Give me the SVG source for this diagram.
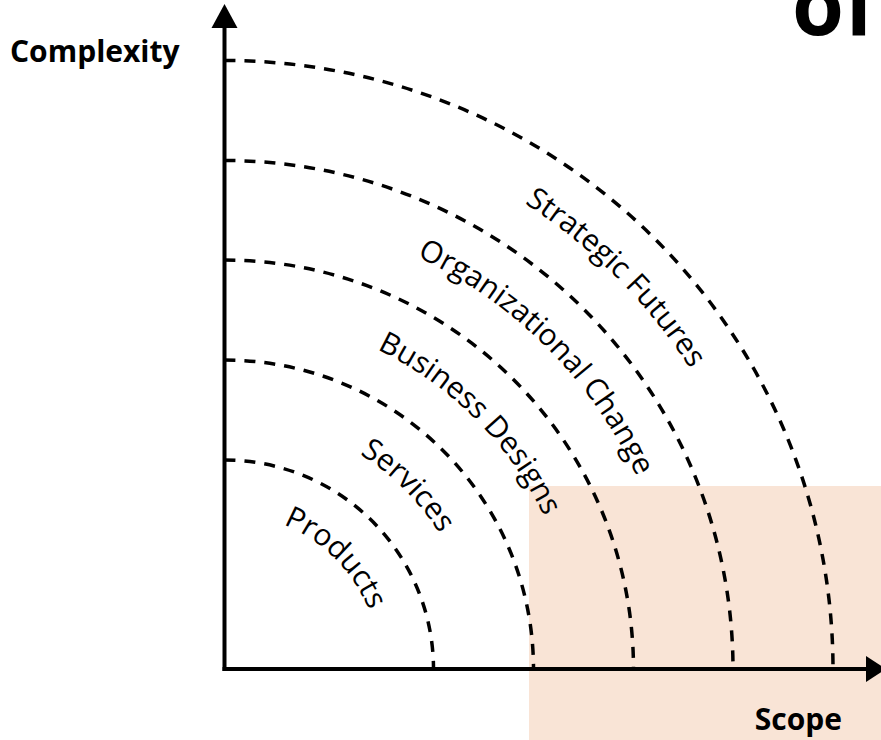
<svg xmlns="http://www.w3.org/2000/svg" width="881" height="740" viewBox="0 0 881 740">
<style>
.arc{fill:none;stroke:#000;stroke-width:3.5;stroke-dasharray:11 9}
.axis{fill:none;stroke:#000;stroke-width:4}
.lbl{font-family:"Open Sans","DejaVu Sans",sans-serif;font-size:30px;fill:#000}
.ax{font-family:"Open Sans","DejaVu Sans",sans-serif;font-size:30px;font-weight:bold;fill:#000}
</style>
<defs>
<path id="t1" d="M224.5 513 A156 156 0 0 1 380.5 669"/>
<path id="t2" d="M224.5 415 A254 254 0 0 1 478.5 669"/>
<path id="t3" d="M224.5 315 A354 354 0 0 1 578.5 669"/>
<path id="t4" d="M224.5 214 A455 455 0 0 1 679.5 669"/>
<path id="t5" d="M224.5 115 A554 554 0 0 1 778.5 669"/>
</defs>
<rect id="highlight" x="529" y="486" width="352" height="254" fill="#f9e4d6"/>
<text id="title-fragment" x="792" y="35" font-family="'Open Sans','DejaVu Sans',sans-serif" font-size="84" font-weight="bold" fill="#000">of</text>
<g id="connectors">
<path id="arc-products" class="arc" d="M224.5 460 A209 209 0 0 1 433.5 669"/>
<path id="arc-services" class="arc" d="M224.5 360 A309 309 0 0 1 533.5 669"/>
<path id="arc-business" class="arc" d="M224.5 260 A409 409 0 0 1 633.5 669"/>
<path id="arc-organizational" class="arc" d="M224.5 160.5 A508.5 508.5 0 0 1 733 669"/>
<path id="arc-strategic" class="arc" d="M224.5 60.5 A608.5 608.5 0 0 1 833 669"/>
</g>
<g id="axes">
<line class="axis" x1="224.5" y1="24" x2="224.5" y2="671"/>
<polygon points="224.5,4 211.5,28 237.5,28"/>
<line class="axis" x1="222.5" y1="669" x2="870" y2="669"/>
<polygon points="886,669 866,656 866,682"/>
</g>
<g id="axis-labels">
<text class="ax" x="10" y="62">Complexity</text>
<text class="ax" x="842" y="730" text-anchor="end">Scope</text>
</g>
<g id="node-products"><text class="lbl" text-anchor="middle"><textPath href="#t1" startOffset="50%">Products</textPath></text></g>
<g id="node-services"><text class="lbl" text-anchor="middle"><textPath href="#t2" startOffset="50%">Services</textPath></text></g>
<g id="node-business"><text class="lbl" text-anchor="middle"><textPath href="#t3" startOffset="50%">Business Designs</textPath></text></g>
<g id="node-organizational"><text class="lbl" text-anchor="middle"><textPath href="#t4" startOffset="50%">Organizational Change</textPath></text></g>
<g id="node-strategic"><text class="lbl" text-anchor="middle"><textPath href="#t5" startOffset="50%">Strategic Futures</textPath></text></g>
</svg>
